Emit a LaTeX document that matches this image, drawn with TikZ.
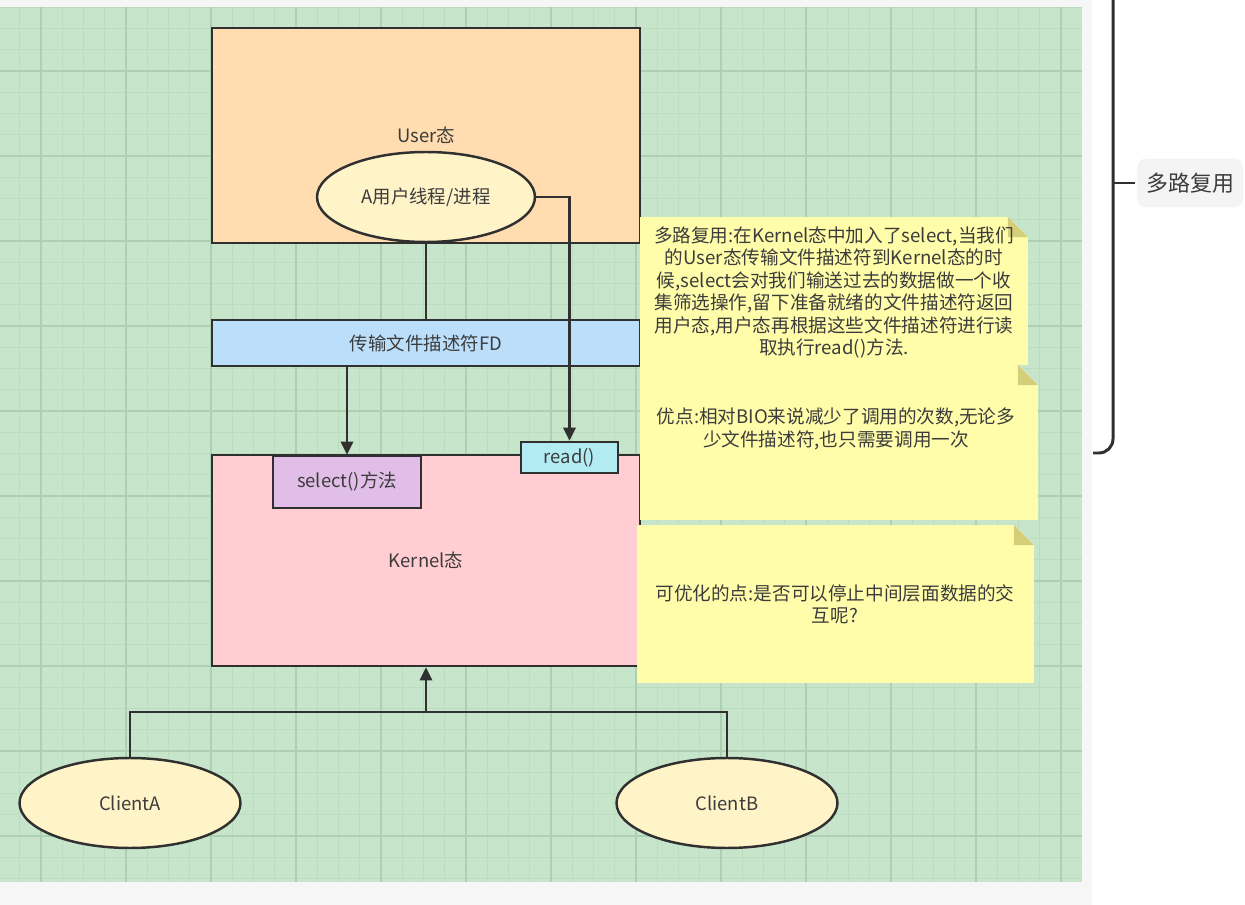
\documentclass[tikz,border=0pt]{standalone}
\usepackage{fontspec}
\setmainfont{Noto Sans CJK SC}
\usepackage{tikz}
\usetikzlibrary{positioning,calc}
\usetikzlibrary{arrows.meta,shapes.geometric}
\definecolor{PageGray}{RGB}{246,246,246}
\definecolor{GridGreen}{RGB}{199,229,203}
\definecolor{GridMinor}{RGB}{188,220,192}
\definecolor{GridMajor}{RGB}{172,208,177}
\definecolor{LineGray}{RGB}{48,48,48}
\definecolor{TextGray}{RGB}{60,60,60}
\definecolor{UserPeach}{RGB}{255,221,176}
\definecolor{OvalYellow}{RGB}{255,243,200}
\definecolor{FdBlue}{RGB}{187,222,251}
\definecolor{KernelPink}{RGB}{255,205,210}
\definecolor{SelectLilac}{RGB}{225,190,231}
\definecolor{ReadCyan}{RGB}{178,235,242}
\definecolor{NoteYellow}{RGB}{255,253,170}
\definecolor{NoteFold}{RGB}{212,206,120}
\definecolor{TagGray}{RGB}{244,244,244}
\tikzset{
  box/.style={rectangle,draw=LineGray,line width=1.4pt,inner sep=0pt,text=TextGray,
    font=\fontsize{10.5}{12}\selectfont},
  oval/.style={ellipse,draw=LineGray,line width=1.4pt,fill=OvalYellow,inner sep=0pt,
    text=TextGray,font=\fontsize{10.5}{12}\selectfont},
  link/.style={draw=LineGray,line width=1.4pt},
  arr/.style={link,-{Triangle[length=7.5pt,width=7pt]}},
  gridminor/.style={draw=GridMinor,line width=0.5pt},
  gridmajor/.style={draw=GridMajor,line width=0.7pt},
}
\tikzset{note/.style={rectangle,inner sep=0pt,path picture={
    \fill[NoteYellow] (path picture bounding box.north west)
      -- ([xshift=-0.4cm]path picture bounding box.north east)
      -- ([yshift=-0.4cm]path picture bounding box.north east)
      -- (path picture bounding box.south east)
      -- (path picture bounding box.south west) -- cycle;
    \fill[NoteFold] ([xshift=-0.4cm]path picture bounding box.north east)
      -- ([xshift=-0.4cm,yshift=-0.4cm]path picture bounding box.north east)
      -- ([yshift=-0.4cm]path picture bounding box.north east) -- cycle;}},
  notetext/.style={align=center,inner sep=0pt,text=TextGray,font=\fontsize{10.6}{12.8}\selectfont},
  bracket/.style={draw=LineGray,line width=1.7pt},
  tag/.style={fill=TagGray,rounded corners=5pt,inner xsep=0.18cm,minimum height=0.98cm,
    text=TextGray,font=\fontsize{12.5}{14}\selectfont}}

\begin{document}
\begin{tikzpicture}[x=0.02cm,y=-0.02cm]
\useasboundingbox (0,0) rectangle (1245,905);
\fill[white] (0,0) rectangle (1245,905);
\fill[PageGray] (0,0) rectangle (1092,905);
\fill[GridGreen] (0,7) rectangle (1082,882);
% grid
\begin{scope}
\clip (0,7) rectangle (1082,882);
\foreach \i in {-1,...,48} \draw[gridminor] ({41+21.25*\i},7) -- ({41+21.25*\i},882);
\foreach \j in {-3,...,38} \draw[gridminor] (0,{71+21.25*\j}) -- (1082,{71+21.25*\j});
\foreach \i in {0,...,12} \draw[gridmajor] ({41+85*\i},7) -- ({41+85*\i},882);
\foreach \j in {0,...,9} \draw[gridmajor] (0,{71+85*\j}) -- (1082,{71+85*\j});
\end{scope}
% user / kernel
\node[box,fill=UserPeach,minimum width=8.56cm,minimum height=4.3cm] (user) at (426,135.5) {User态};
\node[oval,minimum width=4.36cm,minimum height=1.8cm] (proc) at (426,197) {A用户线程/进程};
\node[box,fill=FdBlue,minimum width=8.56cm,minimum height=0.92cm] (fd) at (426,343) {传输文件描述符FD};
\node[box,fill=KernelPink,minimum width=8.56cm,minimum height=4.22cm] (kernel) at (426,560.5) {Kernel态};
\node[box,fill=SelectLilac,minimum width=2.96cm,minimum height=1.04cm] (sel) at (347,482) {select()方法};
\node[box,fill=ReadCyan,minimum width=1.94cm,minimum height=0.62cm] (read) at (569.5,457.5) {read()};
\draw[link] (proc.south) -- (fd.north);
\draw[arr] (proc.east) -| (read.north);
\draw[arr] (fd.south -| sel.north) -- (sel.north);
% clients
\node[oval,minimum width=4.42cm,minimum height=1.8cm] (ca) at (130,803) {ClientA};
\node[oval,minimum width=4.42cm,minimum height=1.8cm] (cb) at (727,803) {ClientB};
\coordinate (join) at (426,712);
\draw[link] (ca.north) |- (join) -| (cb.north);
\draw[arr] (join) -- (kernel.south);
% notes
\node[note,minimum width=7.76cm,minimum height=2.96cm] (note1) at (834,291) {};
\node[notetext] (muxnote) at (834,292.5) {多路复用:在Kernel态中加入了select,当我们\\
  的User态传输文件描述符到Kernel态的时\\
  候,select会对我们输送过去的数据做一个收\\
  集筛选操作,留下准备就绪的文件描述符返回\\
  用户态,用户态再根据这些文件描述符进行读\\
  取执行read()方法.};
\node[note,minimum width=7.96cm,minimum height=3.1cm] (note2) at (839,442.5) {};
\node[notetext] (pronote) at (836,429) {优点:相对BIO来说减少了调用的次数,无论多\\
  少文件描述符,也只需要调用一次};
\node[note,minimum width=7.94cm,minimum height=3.16cm] (note3) at (835.5,604) {};
\node[notetext] (todonote) at (835,604) {可优化的点:是否可以停止中间层面数据的交\\互呢?};
% mind map branch
\node[tag,anchor=west] (muxtag) at (1137,183) {多路复用};
\coordinate (brtop) at (1113,-5);
\coordinate (brbot) at (1093,453);
\coordinate (brmid) at (1113,183);
\draw[bracket,rounded corners=8pt] (brtop) -- (brtop |- brbot) -- (brbot);
\draw[bracket] (brmid) -- ([xshift=-0.04cm]muxtag.west);
\end{tikzpicture}
\end{document}
